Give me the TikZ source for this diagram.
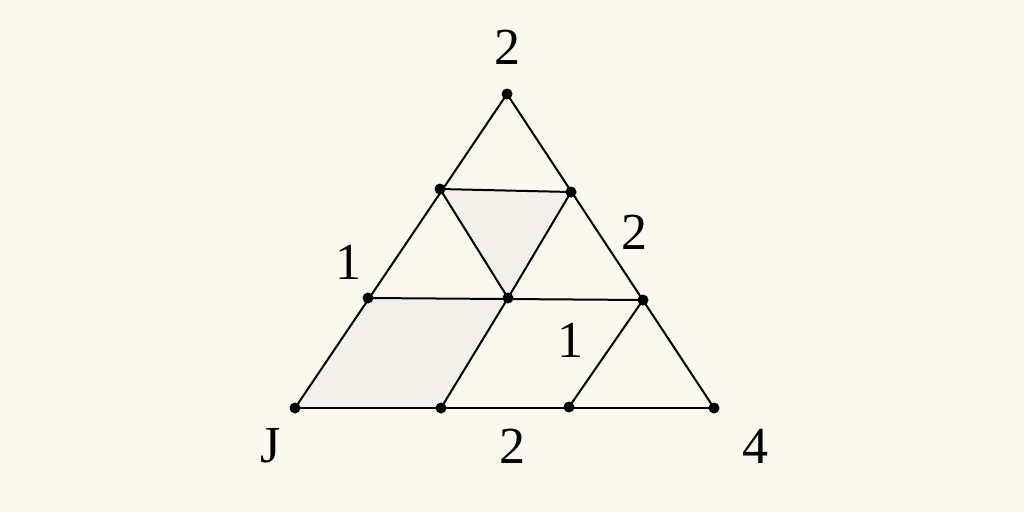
\documentclass[tikz,border=0pt]{standalone}
\usepackage{fontspec}
\setmainfont{Liberation Serif}
\definecolor{bgcol}{HTML}{FAF8EF}
\definecolor{regioncol}{HTML}{F2F0EA}
\begin{document}
\begin{tikzpicture}[x=1pt,y=-1pt,
  edge/.style={line width=2pt,black},
  lab/.style={font=\fontsize{52}{56}\selectfont,inner sep=0pt},
  dotc/.style={fill=black}]
\fill[bgcol] (0,0) rectangle (1024,512);
\useasboundingbox (0,0) rectangle (1024,512);
\coordinate (A) at (507,94);
\coordinate (L) at (295,408);
\coordinate (R) at (714,408);
\coordinate (P1) at (440,189);
\coordinate (P2) at (571,192);
\coordinate (P3) at (368,298);
\coordinate (P4) at (508,298);
\coordinate (P5) at (643,300);
\coordinate (P6) at (441,408);
\coordinate (P7) at (569,407);
% shaded regions
\fill[regioncol] (P1) -- (P2) -- (P4) -- cycle;
\fill[regioncol] (P3) -- (P4) -- (P6) -- (L) -- cycle;
% edges
\draw[edge] (A) -- (L);
\draw[edge] (A) -- (R);
\draw[edge] (L) -- (R);
\draw[edge] (P1) -- (P2);
\draw[edge] (P1) -- (P4);
\draw[edge] (P2) -- (P4);
\draw[edge] (P3) -- (P5);
\draw[edge] (P4) -- (P6);
\draw[edge] (P5) -- (P7);
% dots
\foreach \p in {A,L,R,P1,P2,P3,P4,P5,P6,P7}
  \fill[dotc] (\p) circle (5.5);
% labels
\node[lab] (t2) at (507,47) {2};
\node[lab] (l1) at (348,262) {1};
\node[lab] (r2) at (634,232) {2};
\node[lab] (m1) at (570,340) {1};
\node[lab] (bj) at (271,446) {J};
\node[lab] (b2) at (512,446) {2};
\node[lab] (b4) at (755,446) {4};
\end{tikzpicture}
\end{document}
